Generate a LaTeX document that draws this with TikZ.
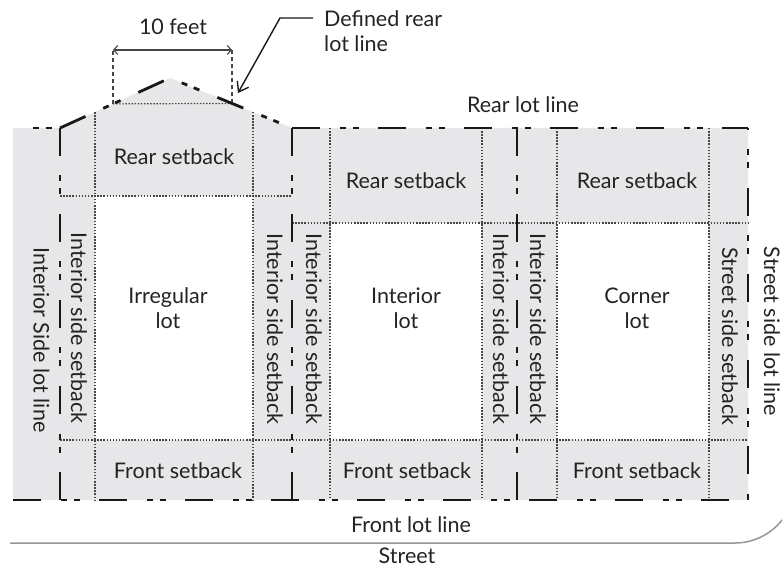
\documentclass[tikz,border=0pt]{standalone}
\usepackage{fontspec}
\setmainfont{Lato}
\usetikzlibrary{arrows.meta}
\definecolor{lotgray}{RGB}{231,231,233}
\definecolor{dotgray}{RGB}{70,70,70}
\definecolor{streetgray}{RGB}{150,150,150}
\definecolor{txt}{RGB}{35,35,35}
\begin{document}
\begin{tikzpicture}[x=1pt,y=-1pt,
  lotline/.style={line width=2.8pt, black!90, dash pattern=on 28pt off 19.5pt on 6pt off 7pt on 6pt off 19.5pt},
  setline/.style={line width=1.2pt, dotgray, dash pattern=on 1.5pt off 1.6pt},
  dimline/.style={line width=1.2pt, dotgray, dash pattern=on 4pt off 3pt},
  lbl/.style={font=\fontsize{21.5}{25}\selectfont, text=txt, inner sep=0pt, align=center},
  vlbl/.style={lbl, rotate=-90},
  barb/.style={line width=1.1pt, dotgray, {Straight Barb[length=4pt,width=9pt]}-{Straight Barb[length=4pt,width=9pt]}},
  leader/.style={line width=1.4pt, black!90, -{Straight Barb[length=9pt,width=13pt]}}
]
\useasboundingbox (0,0) rectangle (782,569);
% geometry
\coordinate (gTL) at (13,128);
\coordinate (L1) at (60,128);
\coordinate (peak) at (170,78);
\coordinate (R1) at (292,128);
\coordinate (M1) at (517,128);
\coordinate (TR) at (748,128);
\coordinate (BR) at (748,500);
\coordinate (BL) at (13,500);
\coordinate (L1b) at (60,500);
\coordinate (R1b) at (292,500);
\coordinate (M1b) at (517,500);
% fills
\fill[lotgray] (gTL) -- (L1) -- (peak) -- (R1) -- (TR) -- (BR) -- (BL) -- cycle;
\fill[white] (95,196) rectangle (253,440);
\fill[white] (330,223) rectangle (482,440);
\fill[white] (557,223) rectangle (709,440);
% setback lines
\draw[setline] (60,196) -- (292,196);
\draw[setline] (292,223) -- (748,223);
\draw[setline] (60,440) -- (748,440);
\draw[setline] (95,112.1) -- (95,500);
\draw[setline] (253,112) -- (253,500);
\draw[setline] (330,128) -- (330,500);
\draw[setline] (482,128) -- (482,500);
\draw[setline] (557,128) -- (557,500);
\draw[setline] (709,128) -- (709,500);
% 10 feet dimension
\coordinate (dA) at (113,103.9);
\coordinate (dB) at (232,103.4);
\coordinate (dAt) at (113,50);
\coordinate (dBt) at (232,50);
\draw[setline] (dA) -- (dB);
\draw[dimline] (dA) -- (dAt);
\draw[dimline] (dB) -- (dBt);
\draw[barb] (dAt) -- (dBt);
% lot lines
\draw[lotline, dash phase=28pt] (gTL) -- (L1);
\draw[lotline] (L1) -- (L1b);
\draw[lotline] (L1) -- (peak) -- (R1);
\draw[lotline] (R1) -- (R1b);
\draw[lotline] (R1) -- (TR);
\draw[lotline] (M1) -- (M1b);
\draw[lotline, dash phase=26pt] (TR) -- (BR);
\draw[lotline] (BL) -- (BR);
% street
\begin{scope}
\clip (0,0) rectangle (782,569);
\coordinate (sA) at (10,543);
\coordinate (sB) at (735,543);
\coordinate (sC) at (795,483);
\draw[line width=1.5pt, streetgray] (sA) -- (sB) .. controls (768,543) and (795,516) .. (sC);
\end{scope}
% labels
\node[lbl, anchor=base] (tenft) at (173,35) {10 feet};
\node[lbl, anchor=base west, align=left] (defA) at (324,52) {Defined rear\\lot line};
\coordinate (ldA) at (313,18);
\coordinate (ldB) at (280,18);
\coordinate (ldC) at (238,93);
\draw[leader] (ldA) -- (ldB) -- (ldC);
\node[lbl, anchor=base] (rearlot) at (523,113) {Rear lot line};
\node[lbl, anchor=base] (rs1) at (174,165) {Rear setback};
\node[lbl, anchor=base] (rs2) at (406,189) {Rear setback};
\node[lbl, anchor=base] (rs3) at (637,189) {Rear setback};
\node[lbl] (lot1) at (168,308) {Irregular\\lot};
\node[lbl] (lot2) at (406,308) {Interior\\lot};
\node[lbl] (lot3) at (637,308) {Corner\\lot};
\node[lbl, anchor=base] (fs1) at (178,478) {Front setback};
\node[lbl, anchor=base] (fs2) at (407,478) {Front setback};
\node[lbl, anchor=base] (fs3) at (637,478) {Front setback};
\node[lbl, anchor=base] (frontlot) at (411,532) {Front lot line};
\node[lbl, anchor=base] (street) at (407,563.5) {Street};
\node[vlbl] (v0) at (41.5,340) {Interior Side lot line};
\node[vlbl] (v1) at (79,328) {Interior side setback};
\node[vlbl] (v2) at (275,329) {Interior side setback};
\node[vlbl] (v3) at (314,329) {Interior side setback};
\node[vlbl] (v4) at (501,329) {Interior side setback};
\node[vlbl] (v5) at (538,329) {Interior side setback};
\node[vlbl] (v6) at (730,336.5) {Street side setback};
\node[vlbl] (v7) at (772,331.5) {Street side lot line};
\end{tikzpicture}
\end{document}
